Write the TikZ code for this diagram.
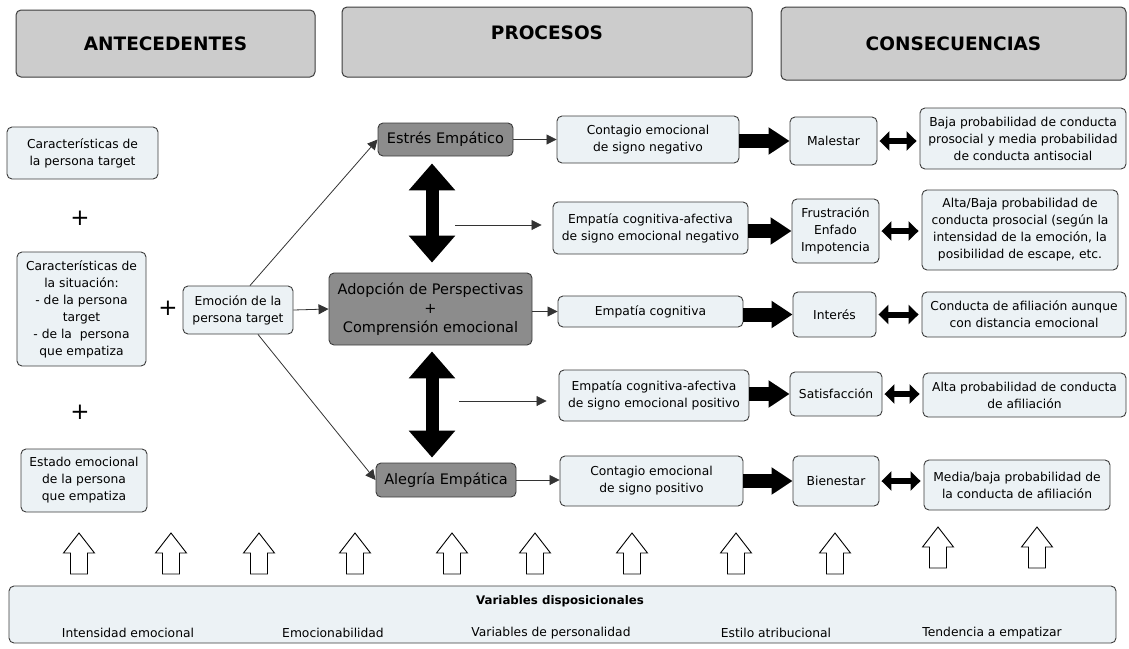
\documentclass[tikz,border=0pt]{standalone}
\usepackage{fontspec}
\setmainfont{DejaVu Sans}
\usetikzlibrary{arrows.meta,calc}
\definecolor{lightfill}{RGB}{236,242,245}
\definecolor{darkfill}{RGB}{140,140,140}
\definecolor{hdrfill}{RGB}{204,204,204}
\definecolor{edge}{RGB}{60,60,60}
\begin{document}
\begin{tikzpicture}[x=1pt,y=-1pt,
  base/.style={draw=edge, line width=0.9pt, rounded corners=5pt, align=center, inner sep=1pt},
  lbox/.style={base, fill=lightfill, font=\fontsize{12.3}{17}\selectfont},
  dbox/.style={base, fill=darkfill, font=\fontsize{14.5}{19}\selectfont},
  hdr/.style={base, fill=hdrfill, line width=1pt, font=\fontsize{18.5}{20}\selectfont\bfseries},
  plus/.style={font=\fontsize{23}{23}\selectfont, inner sep=0pt},
  thin/.style={draw=black!80, line width=0.8pt, -{Triangle[length=10pt,width=10pt]}},
  fat/.style={draw=black, line width=14pt, -{Triangle[length=21pt,width=26pt]}},
  dbl/.style={draw=black, line width=6pt, {Triangle[length=10pt,width=19pt]}-{Triangle[length=10pt,width=19pt]}},
  vbig/.style={draw=black, line width=13pt, {Triangle[length=27pt,width=45pt]}-{Triangle[length=27pt,width=45pt]}},
  uparr/.pic={\draw[line width=0.9pt, fill=white, line join=miter]
     (-8.5,0) -- (-8.5,-21) -- (-15.5,-21) -- (0,-41) -- (15.5,-21) -- (8.5,-21) -- (8.5,0) -- cycle;}
]
\useasboundingbox (0,0) rectangle (1129,648);

% headers
\node[hdr, minimum width=299, minimum height=67] (hant) at (165.5,43.5) {ANTECEDENTES};
\node[hdr, minimum width=410, minimum height=70, label={[font=\fontsize{18.5}{20}\selectfont\bfseries, yshift=9pt]center:PROCESOS}] (hpro) at (547,42) {};
\node[hdr, minimum width=345, minimum height=73] (hcon) at (953.5,43.5) {CONSECUENCIAS};

% left column
\node[lbox, minimum width=151, minimum height=52] (cpt) at (82.5,153) {Características de\\la persona target};
\node[plus] (p1) at (80,218) {+};
\node[lbox, minimum width=129, minimum height=114] (csit) at (81.5,309) {Características de\\la situación:\\- de la persona\\target\\- de la\ \ persona\\que empatiza};
\node[plus] (p2) at (168,308) {+};
\node[lbox, minimum width=110, minimum height=48] (emo) at (238,310) {Emoción de la\\persona target};
\node[plus] (p3) at (80,412) {+};
\node[lbox, minimum width=126, minimum height=63] (est) at (84,480.5) {Estado emocional\\de la persona\\que empatiza};

% process
\node[dbox, minimum width=135, minimum height=33] (ee) at (445.5,139.5) {Estrés Empático};
\node[dbox, minimum width=203, minimum height=72] (ado) at (430.5,309) {Adopción de Perspectivas\\+\\Comprensión emocional};
\node[dbox, minimum width=140, minimum height=34] (ae) at (446,480) {Alegría Empática};

\node[lbox, minimum width=182, minimum height=47] (cneg) at (648,139.5) {Contagio emocional\\de signo negativo};
\node[lbox, minimum width=195, minimum height=52] (ecn) at (650.5,228) {Empatía cognitiva-afectiva\\de signo emocional negativo};
\node[lbox, minimum width=185, minimum height=31] (ec) at (650.5,311.5) {Empatía cognitiva};
\node[lbox, minimum width=190, minimum height=51] (ecp) at (654,395.5) {Empatía cognitiva-afectiva\\de signo emocional positivo};
\node[lbox, minimum width=183, minimum height=50] (cpos) at (651.5,481) {Contagio emocional\\de signo positivo};

% emotions
\node[lbox, minimum width=87, minimum height=48] (mal) at (833.5,141) {Malestar};
\node[lbox, minimum width=87, minimum height=64] (fru) at (835.5,231) {Frustración\\Enfado\\Impotencia};
\node[lbox, minimum width=83, minimum height=45] (int) at (834.5,314.5) {Interés};
\node[lbox, minimum width=92, minimum height=44] (sat) at (836,394) {Satisfacción};
\node[lbox, minimum width=86, minimum height=50] (bie) at (836,481) {Bienestar};

% consequences
\node[lbox, minimum width=206, minimum height=61] (c1) at (1023,138.5) {Baja probabilidad de conducta\\prosocial y media probabilidad\\de conducta antisocial};
\node[lbox, minimum width=196, minimum height=80] (c2) at (1020,230) {Alta/Baja probabilidad de\\conducta prosocial (según la\\intensidad de la emoción, la\\posibilidad de escape, etc.};
\node[lbox, minimum width=204, minimum height=45] (c3) at (1024,314.5) {Conducta de afiliación aunque\\con distancia emocional};
\node[lbox, minimum width=203, minimum height=44] (c4) at (1024.5,395) {Alta probabilidad de conducta\\de afiliación};
\node[lbox, minimum width=186, minimum height=50] (c5) at (1017,485) {Media/baja probabilidad de\\la conducta de afiliación};

% bottom box
\node[base, fill=lightfill, minimum width=1107, minimum height=57] (vd) at (562.5,614.5) {};
\node[font=\fontsize{11.8}{13}\selectfont\bfseries] (vdt) at (560,601) {Variables disposicionales};
\begin{scope}[every node/.style={font=\fontsize{12.3}{14}\selectfont}]
\node (v1) at (128,633) {Intensidad emocional};
\node (v2) at (333,633) {Emocionabilidad};
\node (v3) at (551,633) {Variables de personalidad};
\node (v4) at (776,633) {Estilo atribucional};
\node (v5) at (992,633) {Tendencia a empatizar};
\end{scope}

% up arrows
\foreach \x in {79,171,259,355,452,535,632,736,835} {\pic at (\x,574) {uparr};}
\foreach \x in {938,1037} {\pic at (\x,568) {uparr};}

% connectors
\draw[thin] ([xshift=12pt]emo.north) -- (ee.west);
\draw[thin] (emo.east) -- (ado.west);
\draw[thin] ([xshift=20pt]emo.south) -- (ae.west);

\draw[thin] (ee.east) -- (ee.east -| cneg.west);
\draw[thin] (ado.east |- ec.west) -- (ec.west);
\draw[thin] (ae.east) -- (ae.east -| cpos.west);

\draw[vbig] ([yshift=-7pt]ee.south -| 432,0) -- ([yshift=10pt]ado.north -| 432,0);
\draw[vbig] ([yshift=-6pt]ado.south -| 432,0) -- ([yshift=5pt]ae.north -| 432,0);

\coordinate (t1) at (455,225);
\coordinate (t2) at (459,401);
\draw[thin] (t1) -- ([xshift=-11pt]t1 -| ecn.west);
\draw[thin] (t2) -- ([xshift=-12pt]t2 -| ecp.west);

\draw[fat] (cneg.east |- mal.west) -- (mal.west);
\draw[fat] (ecn.east |- fru.west) -- (fru.west);
\draw[fat] (ec.east |- int.west) -- (int.west);
\draw[fat] (ecp.east |- sat.west) -- (sat.west);
\draw[fat] (cpos.east |- bie.west) -- (bie.west);

\draw[dbl, shorten >=3pt, shorten <=2pt] (mal.east) -- (mal.east -| c1.west);
\draw[dbl, shorten >=3pt, shorten <=2pt] (fru.east) -- (fru.east -| c2.west);
\draw[dbl, shorten >=3pt, shorten <=2pt] (int.east) -- (int.east -| c3.west);
\draw[dbl, shorten >=3pt, shorten <=2pt] (sat.east) -- (sat.east -| c4.west);
\draw[dbl, shorten >=3pt, shorten <=2pt] (bie.east) -- (bie.east -| c5.west);
\end{tikzpicture}
\end{document}
